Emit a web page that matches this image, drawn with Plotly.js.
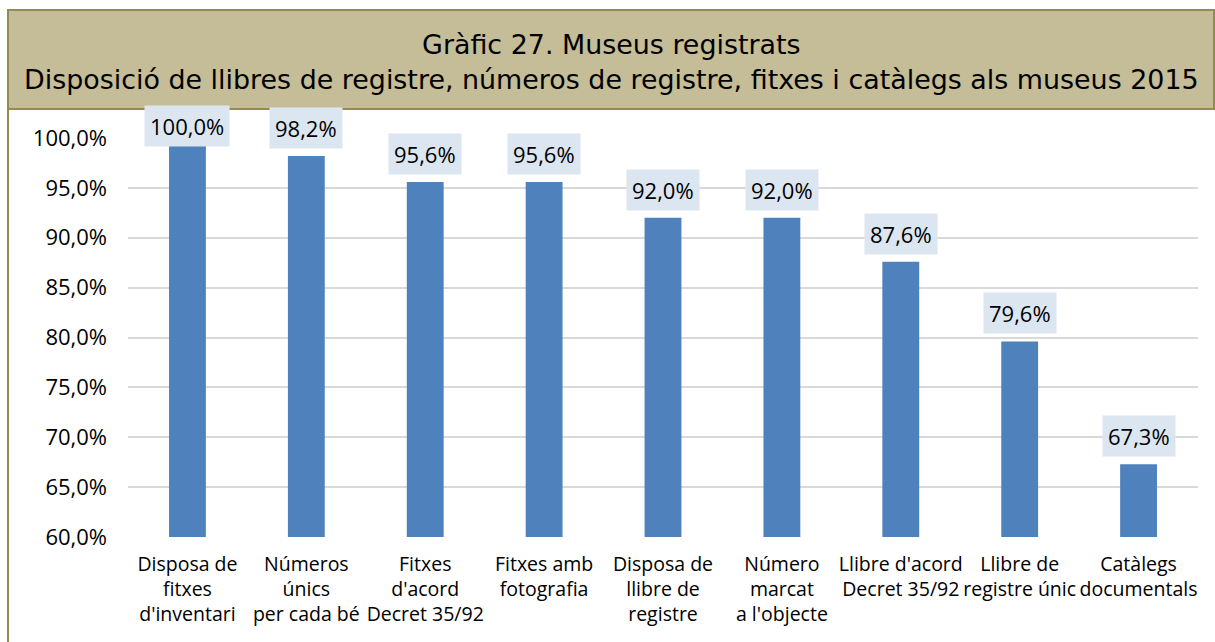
<!DOCTYPE html>
<html>
<head>
<meta charset="utf-8">
<script src="https://cdn.plot.ly/plotly-3.0.1.min.js"></script>
<style>html,body{margin:0;padding:0;background:#fff;}#chart{width:1215px;height:642px;}</style>
</head>
<body>
<div id="chart"></div>
<script>
const categories = [
  "Disposa de<br>fitxes<br>d'inventari",
  "Números<br>únics<br>per cada bé",
  "Fitxes<br>d'acord<br>Decret 35/92",
  "Fitxes amb<br>fotografia",
  "Disposa de<br>llibre de<br>registre",
  "Número<br>marcat<br>a l'objecte",
  "Llibre d'acord<br>Decret 35/92",
  "Llibre de<br>registre únic",
  "Catàlegs<br>documentals"
];
const values = [100.0, 98.2, 95.6, 95.6, 92.0, 92.0, 87.6, 79.6, 67.3];
const valueLabels = ["100,0%", "98,2%", "95,6%", "95,6%", "92,0%", "92,0%", "87,6%", "79,6%", "67,3%"];
const tickVals = [60, 65, 70, 75, 80, 85, 90, 95, 100];
const tickText = ["60,0%", "65,0%", "70,0%", "75,0%", "80,0%", "85,0%", "90,0%", "95,0%", "100,0%"];
const titleText = "Gràfic 27. Museus registrats<br>Disposició de llibres de registre, números de registre, fitxes i catàlegs als museus 2015";

const catFont = {family: "Open Sans, Liberation Sans, sans-serif", size: 19.5, color: "#000"};
const numFont = {family: "Open Sans, Liberation Sans, sans-serif", size: 22, color: "#000"};

const trace = {
  type: "bar",
  x: categories,
  y: values,
  width: 0.31,
  marker: {color: "#4F81BD"},
  hoverinfo: "none"
};

const annotations = values.map((v, i) => ({
  x: categories[i],
  y: Math.min(v, 98.4),
  xref: "x", yref: "y",
  text: valueLabels[i],
  showarrow: false,
  yanchor: "bottom",
  yshift: 7,
  bgcolor: "#DCE6F1",
  borderpad: 5,
  font: numFont
}));

// plot area: x 128..1198, y 138..537
const L = 128, R = 17, T = 138, B = 105, W = 1215 - L - R, H = 642 - T - B;
const px = x => (x - L) / W;
const py = y => (642 - B - y) / H;

const shapes = [
  {type: "rect", xref: "paper", yref: "paper", layer: "below",
   x0: px(8), x1: px(1214), y0: py(109), y1: py(10),
   fillcolor: "#C4BD97", line: {color: "#948A54", width: 2}},
  {type: "line", xref: "paper", yref: "paper",
   x0: px(8), x1: px(8), y0: py(109), y1: py(642),
   line: {color: "#948A54", width: 2}}
];

annotations.push({
  xref: "paper", yref: "paper",
  x: px(611), y: py(62),
  xanchor: "center", yanchor: "middle",
  text: titleText,
  showarrow: false,
  align: "center",
  font: {family: "DejaVu Sans, Verdana, sans-serif", size: 26.9, color: "#000"}
});

const layout = {
  width: 1215, height: 642,
  margin: {l: L, r: R, t: T, b: B},
  paper_bgcolor: "#fff",
  plot_bgcolor: "#fff",
  showlegend: false,
  xaxis: {
    type: "category",
    tickfont: catFont,
    ticklabelstandoff: 13,
    showgrid: false,
    showline: false,
    zeroline: false,
    tickangle: 0,
    fixedrange: true
  },
  yaxis: {
    range: [60, 100],
    tickvals: tickVals,
    ticktext: tickText,
    tickfont: numFont,
    ticklabelstandoff: 20,
    showgrid: true,
    gridcolor: "#D9D9D9",
    gridwidth: 2,
    zeroline: false,
    showline: false,
    fixedrange: true
  },
  shapes: shapes,
  annotations: annotations
};

Plotly.newPlot("chart", [trace], layout, {displayModeBar: false, staticPlot: true});
</script>
</body>
</html>
